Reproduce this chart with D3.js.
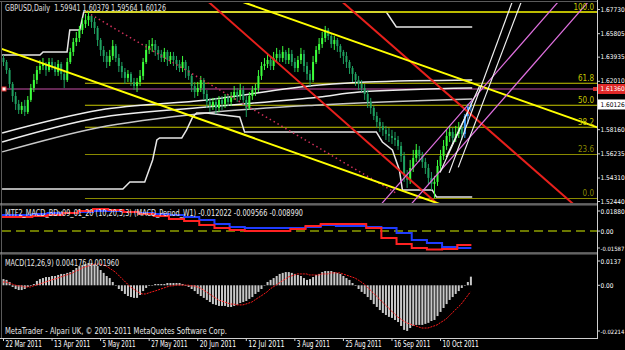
<!DOCTYPE html>
<html><head><meta charset="utf-8">
<script src="https://cdn.jsdelivr.net/npm/d3@7"></script>
<style>body{margin:0;background:#000}svg{display:block}</style>
</head><body>
<svg id="c" width="625" height="350"></svg>
<script>
// ---------------- DATA ----------------
const dateLabels = ["22 Mar 2011","13 Apr 2011","5 May 2011","27 May 2011","20 Jun 2011","12 Jul 2011","3 Aug 2011","25 Aug 2011","16 Sep 2011","10 Oct 2011"];
const dateTickBars = [0,16,32,48,64,80,96,112,128,144];

const open = [1.6383,1.6351,1.6287,1.6176,1.6080,1.6017,1.5969,1.6001,1.5953,1.6049,
1.6144,1.6208,1.6287,1.6319,1.6335,1.6287,1.6351,1.6319,1.6271,1.6335,
1.6256,1.6208,1.6351,1.6431,1.6510,1.6542,1.6606,1.6654,1.6685,1.6717,
1.6670,1.6622,1.6526,1.6447,1.6399,1.6351,1.6399,1.6478,1.6383,1.6319,
1.6271,1.6224,1.6256,1.6192,1.6160,1.6192,1.6240,1.6351,1.6447,1.6478,
1.6494,1.6447,1.6415,1.6383,1.6431,1.6367,1.6399,1.6367,1.6335,1.6303,
1.6351,1.6287,1.6240,1.6160,1.6112,1.6144,1.6208,1.6096,1.6033,1.6001,
1.6033,1.5985,1.6049,1.6017,1.6065,1.6033,1.6080,1.6112,1.6080,1.6128,
1.6049,1.5985,1.6080,1.6128,1.6144,1.6240,1.6319,1.6335,1.6367,1.6319,
1.6383,1.6415,1.6383,1.6431,1.6367,1.6415,1.6351,1.6303,1.6367,1.6415,
1.6319,1.6256,1.6208,1.6351,1.6447,1.6494,1.6542,1.6606,1.6558,1.6494,
1.6526,1.6478,1.6431,1.6399,1.6351,1.6303,1.6256,1.6208,1.6176,1.6144,
1.6096,1.6033,1.5985,1.5921,1.5873,1.5842,1.5810,1.5778,1.5762,1.5746,
1.5730,1.5682,1.5603,1.5444,1.5412,1.5507,1.5587,1.5651,1.5603,1.5555,
1.5507,1.5428,1.5380,1.5396,1.5523,1.5603,1.5682,1.5762,1.5794,1.5746,
1.5778,1.5826,1.5778,1.5921,1.59941];
const high = [1.6407,1.6367,1.6303,1.6192,1.6112,1.6049,1.6033,1.6049,1.6080,1.6176,
1.6256,1.6319,1.6367,1.6383,1.6351,1.6383,1.6383,1.6351,1.6367,1.6351,
1.6287,1.6383,1.6463,1.6542,1.6590,1.6638,1.6701,1.6733,1.6749,1.6733,
1.6701,1.6638,1.6542,1.6478,1.6431,1.6447,1.6526,1.6494,1.6415,1.6351,
1.6303,1.6287,1.6271,1.6224,1.6224,1.6287,1.6383,1.6494,1.6526,1.6542,
1.6526,1.6478,1.6447,1.6463,1.6447,1.6431,1.6431,1.6399,1.6367,1.6399,
1.6367,1.6319,1.6256,1.6192,1.6192,1.6240,1.6224,1.6128,1.6065,1.6065,
1.6065,1.6080,1.6080,1.6096,1.6096,1.6112,1.6160,1.6144,1.6176,1.6160,
1.6080,1.6112,1.6160,1.6176,1.6287,1.6351,1.6383,1.6415,1.6399,1.6431,
1.6463,1.6447,1.6478,1.6447,1.6463,1.6447,1.6383,1.6399,1.6463,1.6447,
1.6351,1.6287,1.6399,1.6478,1.6542,1.6590,1.6638,1.6622,1.6574,1.6558,
1.6542,1.6494,1.6447,1.6431,1.6367,1.6319,1.6271,1.6240,1.6208,1.6176,
1.6128,1.6065,1.6001,1.5953,1.5905,1.5873,1.5842,1.5826,1.5810,1.5794,
1.5762,1.5714,1.5635,1.5491,1.5571,1.5651,1.5698,1.5682,1.5635,1.5587,
1.5539,1.5475,1.5444,1.5571,1.5651,1.5730,1.5810,1.5842,1.5826,1.5842,
1.5873,1.5858,1.5937,1.6017,1.60379];
const low = [1.6319,1.6256,1.6144,1.6033,1.5969,1.5937,1.5937,1.5921,1.5937,1.6033,
1.6112,1.6176,1.6256,1.6287,1.6240,1.6271,1.6287,1.6240,1.6240,1.6208,
1.6144,1.6192,1.6335,1.6399,1.6478,1.6510,1.6574,1.6622,1.6638,1.6622,
1.6574,1.6478,1.6399,1.6351,1.6303,1.6319,1.6367,1.6351,1.6271,1.6224,
1.6176,1.6192,1.6160,1.6128,1.6112,1.6160,1.6208,1.6335,1.6415,1.6431,
1.6399,1.6367,1.6351,1.6351,1.6319,1.6335,1.6319,1.6287,1.6271,1.6271,
1.6224,1.6208,1.6112,1.6065,1.6080,1.6112,1.6049,1.5985,1.5953,1.5969,
1.5937,1.5953,1.5969,1.5985,1.6001,1.6001,1.6049,1.6033,1.6049,1.6001,
1.5913,1.5969,1.6049,1.6080,1.6112,1.6208,1.6287,1.6303,1.6287,1.6287,
1.6351,1.6351,1.6351,1.6335,1.6335,1.6319,1.6271,1.6271,1.6335,1.6271,
1.6208,1.6160,1.6192,1.6335,1.6415,1.6463,1.6510,1.6526,1.6463,1.6447,
1.6431,1.6383,1.6335,1.6303,1.6256,1.6192,1.6160,1.6128,1.6112,1.6049,
1.5985,1.5937,1.5889,1.5826,1.5794,1.5762,1.5730,1.5714,1.5698,1.5682,
1.5651,1.5555,1.5396,1.5348,1.5380,1.5475,1.5555,1.5555,1.5507,1.5459,
1.5380,1.5332,1.5268,1.5364,1.5491,1.5571,1.5651,1.5714,1.5698,1.5714,
1.5746,1.5730,1.5746,1.5858,1.59564];
const close = [1.6351,1.6287,1.6176,1.6080,1.6017,1.5969,1.6001,1.5953,1.6049,1.6144,
1.6208,1.6287,1.6319,1.6335,1.6287,1.6351,1.6319,1.6271,1.6335,1.6256,
1.6208,1.6351,1.6431,1.6510,1.6542,1.6606,1.6654,1.6685,1.6717,1.6670,
1.6622,1.6526,1.6447,1.6399,1.6351,1.6399,1.6478,1.6383,1.6319,1.6271,
1.6224,1.6256,1.6192,1.6160,1.6192,1.6240,1.6351,1.6447,1.6478,1.6494,
1.6447,1.6415,1.6383,1.6431,1.6367,1.6399,1.6367,1.6335,1.6303,1.6351,
1.6287,1.6240,1.6160,1.6112,1.6144,1.6208,1.6096,1.6033,1.6001,1.6033,
1.5985,1.6049,1.6017,1.6065,1.6033,1.6080,1.6112,1.6080,1.6128,1.6049,
1.5985,1.6080,1.6128,1.6144,1.6240,1.6319,1.6335,1.6367,1.6319,1.6383,
1.6415,1.6383,1.6431,1.6367,1.6415,1.6351,1.6303,1.6367,1.6415,1.6319,
1.6256,1.6208,1.6351,1.6447,1.6494,1.6542,1.6606,1.6558,1.6494,1.6526,
1.6478,1.6431,1.6399,1.6351,1.6303,1.6256,1.6208,1.6176,1.6144,1.6096,
1.6033,1.5985,1.5921,1.5873,1.5842,1.5810,1.5778,1.5762,1.5746,1.5730,
1.5682,1.5603,1.5444,1.5412,1.5507,1.5587,1.5651,1.5603,1.5555,1.5507,
1.5428,1.5380,1.5396,1.5523,1.5603,1.5682,1.5762,1.5794,1.5746,1.5778,
1.5826,1.5778,1.5921,1.59941,1.60126];
const highlightBars = [152,153,154];

const priceTicks = [1.67730,1.65805,1.63935,1.62010,1.58160,1.56235,1.54310,1.52440];
const lastPrice = 1.60126;
const hLinePrice = 1.61360;

const fibHigh = 1.6749, fibLow = 1.5264, fibStartBar = 27;
const fibLevels = [100.0, 61.8, 50.0, 38.2, 23.6, 0.0];

// trend lines: [bar1, price1, bar2, price2]
const yellowLines = [[0,1.6452,100,1.5596],[88,1.6752,150,1.6222]];
const redLines = [[70,1.6781,140,1.5288],[115,1.6762,185,1.5281]];
const redDotted = [29,1.6728,130,1.5300];
const pinkLines = [[125,1.5229,180,1.6749],[135,1.5233,190,1.6752]];
const whiteLong = [[147,1.5468,168,1.6844],[150,1.5512,171,1.6845]];
const whiteShort = [[144,1.5471,157,1.6157],[146,1.5592,153,1.5948]];

// channel (highest high / lowest low) : [bar, price]
const channelUpper = [[-0.3,1.6407],[12.2,1.6407],[13.2,1.6431],[21.1,1.6431],[22.0,1.6606],[25.3,1.6606],[26.6,1.6749],[126.3,1.6749],[129.6,1.6630],[154.6,1.6630]];
const channelLower = [[-0.3,1.5340],[39.5,1.5340],[41.8,1.5396],[46.7,1.5396],[49.3,1.5571],[50.7,1.5730],[51.6,1.5746],[58.9,1.5746],[60.5,1.5810],[62.5,1.5913],[63.8,1.5945],[67.1,1.5945],[78.0,1.5913],[79.6,1.5794],[123.0,1.5794],[125.0,1.5714],[128.3,1.5651],[130.6,1.5491],[131.6,1.5332],[141.4,1.5332],[142.8,1.5276],[154.6,1.5276]];
// slow averages
const avg1 = [[-0.3,1.5786],[31.9,1.5969],[67.1,1.6049],[104.3,1.6168],[119.7,1.6192],[154.6,1.6208]];
const avg2 = [[-0.3,1.5714],[30.9,1.5905],[67.1,1.5993],[104.3,1.6073],[117.4,1.6112],[154.6,1.6144]];
const avg3 = [[-0.3,1.5635],[30.9,1.5826],[67.1,1.5945],[104.3,1.6009],[154.6,1.6057]];

// MTF MACD (weekly values, 5 bars per week)
const mtfRed = [0.0131,0.0131,0.0141,0.0150,0.0169,0.0187,0.0206,0.0197,0.0178,0.0159,0.0141,0.0112,0.0094,0.0056,0.0028,0.0009,0.0000,0.0000,0.0000,0.0019,0.0047,0.0066,0.0066,0.0066,0.0028,-0.0066,-0.0122,-0.0159,-0.0173,-0.0169,-0.0131];
const mtfBlue = [0.0150,0.0150,0.0159,0.0169,0.0169,0.0178,0.0187,0.0187,0.0178,0.0169,0.0159,0.0150,0.0131,0.0103,0.0066,0.0037,0.0028,0.0028,0.0028,0.0028,0.0037,0.0056,0.0047,0.0047,0.0037,0.0028,-0.0019,-0.0084,-0.0112,-0.0150,-0.0159];
const mtfTicks = [0.01880,0,-0.01587];
const mtfTickLabels = ["0.01880","0.00","-0.01587"];

// MACD
const macdMain = [0.0030,0.0026,0.0016,-0.0008,-0.0018,-0.0023,-0.0023,-0.0018,-0.0008,-0.0003,
0.0006,0.0021,0.0030,0.0035,0.0040,0.0040,0.0045,0.0045,0.0050,0.0055,
0.0055,0.0060,0.0064,0.0074,0.0084,0.0093,0.0098,0.0103,0.0108,0.0108,
0.0103,0.0093,0.0074,0.0060,0.0045,0.0035,0.0016,0.0001,-0.0018,-0.0028,
-0.0042,-0.0052,-0.0057,-0.0061,-0.0061,-0.0047,-0.0028,-0.0013,-0.0003,0.0001,
0.0006,0.0006,0.0006,0.0006,0.0011,0.0011,0.0011,0.0011,0.0011,0.0006,
-0.0003,-0.0008,-0.0018,-0.0028,-0.0042,-0.0052,-0.0061,-0.0071,-0.0081,-0.0091,
-0.0095,-0.0100,-0.0100,-0.0100,-0.0105,-0.0105,-0.0100,-0.0095,-0.0086,-0.0081,
-0.0076,-0.0066,-0.0057,-0.0042,-0.0032,-0.0018,0.0001,0.0016,0.0026,0.0035,
0.0045,0.0055,0.0060,0.0064,0.0064,0.0060,0.0055,0.0050,0.0045,0.0035,
0.0026,0.0030,0.0040,0.0050,0.0055,0.0064,0.0069,0.0069,0.0069,0.0064,
0.0060,0.0055,0.0045,0.0035,0.0026,0.0011,-0.0003,-0.0018,-0.0032,-0.0042,
-0.0057,-0.0071,-0.0091,-0.0105,-0.0120,-0.0134,-0.0144,-0.0153,-0.0158,-0.0168,
-0.0178,-0.0197,-0.0216,-0.0221,-0.0207,-0.0197,-0.0192,-0.0192,-0.0192,-0.0187,
-0.0182,-0.0173,-0.0168,-0.0149,-0.0129,-0.0110,-0.0091,-0.0071,-0.0057,-0.0042,
-0.0028,-0.0013,0.0001,0.0016,0.004176];
const macdSignal = [0.0016,0.0016,0.0011,0.0006,0.0001,-0.0003,-0.0003,-0.0008,-0.0008,-0.0008,
-0.0003,0.0001,0.0006,0.0011,0.0016,0.0021,0.0026,0.0030,0.0035,0.0040,
0.0045,0.0050,0.0055,0.0060,0.0069,0.0074,0.0084,0.0089,0.0093,0.0098,
0.0103,0.0103,0.0103,0.0098,0.0093,0.0084,0.0074,0.0064,0.0050,0.0035,
0.0021,0.0006,-0.0008,-0.0018,-0.0028,-0.0037,-0.0042,-0.0042,-0.0037,-0.0032,
-0.0028,-0.0023,-0.0018,-0.0013,-0.0008,-0.0003,-0.0003,0.0001,0.0001,0.0001,
0.0001,0.0001,-0.0003,-0.0003,-0.0008,-0.0013,-0.0023,-0.0032,-0.0042,-0.0052,
-0.0061,-0.0071,-0.0076,-0.0081,-0.0086,-0.0091,-0.0091,-0.0095,-0.0095,-0.0095,
-0.0091,-0.0086,-0.0081,-0.0071,-0.0061,-0.0052,-0.0042,-0.0032,-0.0018,-0.0008,
0.0001,0.0011,0.0021,0.0030,0.0040,0.0045,0.0050,0.0055,0.0055,0.0055,
0.0055,0.0050,0.0050,0.0050,0.0050,0.0055,0.0055,0.0055,0.0060,0.0060,
0.0060,0.0060,0.0055,0.0050,0.0045,0.0040,0.0035,0.0026,0.0016,0.0006,
-0.0008,-0.0023,-0.0037,-0.0052,-0.0066,-0.0081,-0.0095,-0.0110,-0.0124,-0.0139,
-0.0153,-0.0163,-0.0173,-0.0182,-0.0187,-0.0192,-0.0197,-0.0202,-0.0207,-0.0207,
-0.0207,-0.0202,-0.0197,-0.0192,-0.0182,-0.0173,-0.0163,-0.0149,-0.0134,-0.0120,
-0.0105,-0.0091,-0.0071,-0.0052,-0.0032];
const macdTicks = [0.0137,0,-0.02214];
const macdTickLabels = ["0.0137","0.00","-0.02214"];

// ---------------- DRAW ----------------
const FONT = "'Liberation Sans Narrow','DejaVu Sans Condensed','Liberation Sans',Arial,sans-serif";
const svg = d3.select('#c');
const N = close.length;
const plotL = 2, plotR = 597;
const P = {main:[3,203], mtf:[206,252], macd:[256,337]};

const x = d3.scaleLinear().domain([0, N-1]).range([3, 3 + 3.035*(N-1)]);
const y = d3.scaleLinear().domain([1.5244, 1.6773]).range([201, 9]);
const yM = d3.scaleLinear().domain([-0.01587, 0.0188]).range([248, 211]);
const yD = d3.scaleLinear().domain([-0.02214, 0.0137]).range([331, 257]);

// right-margin label size so that each label fits inside the picture
const sideSize = s => s.length >= 8 ? 5.9 : 6.5;

svg.append('rect').attr('width',625).attr('height',350).attr('fill','#000');
const defs = svg.append('defs');
function clip(id, y0, y1){
  defs.append('clipPath').attr('id',id).append('rect')
    .attr('x',plotL).attr('y',y0).attr('width',plotR-plotL).attr('height',y1-y0);
  return svg.append('g').attr('clip-path',`url(#${id})`);
}
const gMain = clip('cm', P.main[0], P.main[1]);
const gMtf = clip('ct', P.mtf[0], P.mtf[1]);
const gMacd = clip('cd', P.macd[0], P.macd[1]);

// frame
const frame = svg.append('g');
frame.append('line').attr('x1',0).attr('x2',plotR).attr('y1',1.5).attr('y2',1.5).attr('stroke','#5a5a5a');
frame.append('line').attr('x1',1.5).attr('x2',1.5).attr('y1',1).attr('y2',338).attr('stroke','#5a5a5a');
[[204,205],[253,254]].forEach(([a,b])=>{
  frame.append('line').attr('x1',0).attr('x2',plotR).attr('y1',a).attr('y2',a).attr('stroke','#b0b0b0');
  frame.append('line').attr('x1',0).attr('x2',plotR).attr('y1',b).attr('y2',b).attr('stroke','#707070');
});
frame.append('line').attr('x1',0).attr('x2',plotR+1).attr('y1',338.5).attr('y2',338.5).attr('stroke','#d0d0d0');
frame.append('line').attr('x1',plotR+0.5).attr('x2',plotR+0.5).attr('y1',0).attr('y2',339).attr('stroke','#d0d0d0');

// fibonacci levels
const fibColor = l => (l===23.6||l===0) ? '#8a8a00' : '#c8c800';
const fibPrice = l => fibLow + (fibHigh-fibLow)*l/100;
gMain.selectAll('.fib').data(fibLevels).join('line')
  .attr('x1',x(fibStartBar)).attr('x2',plotR)
  .attr('y1',d=>y(fibPrice(d))).attr('y2',d=>y(fibPrice(d)))
  .attr('stroke',fibColor).attr('stroke-width',1.2);

// horizontal magenta line
gMain.append('line').attr('x1',plotL).attr('x2',plotR).attr('y1',y(hLinePrice)).attr('y2',y(hLinePrice))
  .attr('stroke','#c850a8').attr('stroke-width',1.2);

// slow averages and channel
const lineGen = d3.line().x(d=>x(d[0])).y(d=>y(d[1]));
const smooth = d3.line().x(d=>x(d[0])).y(d=>y(d[1])).curve(d3.curveMonotoneX);
[avg1,avg2,avg3].forEach((a,k)=>{
  gMain.append('path').attr('d',smooth(a)).attr('fill','none')
    .attr('stroke',k===2?'#c8c8c8':'#eeeeee').attr('stroke-width',1.5);
});
[channelUpper, channelLower].forEach(a=>{
  gMain.append('path').attr('d',lineGen(a)).attr('fill','none').attr('stroke','#e6e6e6').attr('stroke-width',1.5);
});
gMain.append('line').attr('x1',x(fibStartBar)).attr('x2',plotR).attr('y1',y(fibHigh)).attr('y2',y(fibHigh))
  .attr('stroke','#d8d800').attr('stroke-width',1.4);

// candles
const candles = gMain.selectAll('.cd').data(d3.range(N)).join('g');
const colorOf = i => highlightBars.includes(i) ? '#3a9cff' : (close[i] >= open[i] ? '#3cff3c' : '#1fa060');
candles.append('line')
  .attr('x1',i=>x(i)+0.5).attr('x2',i=>x(i)+0.5)
  .attr('y1',i=>y(high[i])).attr('y2',i=>y(low[i]))
  .attr('stroke',colorOf).attr('stroke-width',1);
candles.append('rect')
  .attr('x',i=>x(i)-0.5).attr('width',2)
  .attr('y',i=>y(Math.max(open[i],close[i])))
  .attr('height',i=>Math.max(1, Math.abs(y(open[i])-y(close[i]))))
  .attr('fill',colorOf);

// trend lines
function pts(a, extend){
  const x1=x(a[0]), y1=y(a[1]), x2=x(a[2]), y2=y(a[3]);
  if(!extend) return [[x1,y1],[x2,y2]];
  const m=(y2-y1)/(x2-x1);
  return [[-100, y1+m*(-100-x1)],[800, y1+m*(800-x1)]];
}
const pl = d3.line();
gMain.append('path').attr('d',pl(pts(redDotted,false))).attr('fill','none')
  .attr('stroke','#d0305a').attr('stroke-width',1.5).attr('stroke-dasharray','1.5,3');
redLines.forEach(a=>gMain.append('path').attr('d',pl(pts(a,true))).attr('fill','none').attr('stroke','#e8201c').attr('stroke-width',2));
yellowLines.forEach(a=>gMain.append('path').attr('d',pl(pts(a,true))).attr('fill','none').attr('stroke','#ffff00').attr('stroke-width',2));
pinkLines.forEach(a=>gMain.append('path').attr('d',pl(pts(a,true))).attr('fill','none').attr('stroke','#e070e0').attr('stroke-width',1.2));
whiteLong.forEach(a=>gMain.append('path').attr('d',pl(pts(a,false))).attr('fill','none').attr('stroke','#f0f0f0').attr('stroke-width',1.2));
whiteShort.forEach(a=>gMain.append('path').attr('d',pl(pts(a,false))).attr('fill','none').attr('stroke','#f0f0f0').attr('stroke-width',1.2));

// fib labels
svg.selectAll('.fl').data(fibLevels).join('text')
  .attr('x',594).attr('y',d=>y(fibPrice(d))-2.5).attr('text-anchor','end')
  .attr('font-family',FONT).attr('font-size',8).attr('fill',fibColor)
  .text(d=>d.toFixed(1));

// marker for horizontal line
svg.append('rect').attr('x',2).attr('y',y(hLinePrice)-2).attr('width',4).attr('height',4).attr('fill','#fff').attr('stroke','#e03030');

// price axis
const axP = svg.append('g').attr('transform',`translate(${plotR},0)`)
  .call(d3.axisRight(y).tickValues(priceTicks).tickSize(3).tickFormat(d3.format('.5f')));
axP.select('.domain').remove();
axP.selectAll('line').attr('stroke','#d0d0d0');
axP.selectAll('text').attr('fill','#ffffff').attr('font-family',FONT)
  .attr('font-size',function(){ return sideSize(this.textContent); }).attr('x',3.5);

// red price box & current price box
function priceBox(v, bg, fg){
  const yy = y(v), s = d3.format('.5f')(v);
  svg.append('rect').attr('x',598).attr('y',yy-5).attr('width',27).attr('height',10).attr('fill',bg);
  svg.append('text').attr('x',600.5).attr('y',yy+2.5).attr('font-family',FONT).attr('font-size',sideSize(s)).attr('fill',fg).text(s);
}
svg.append('rect').attr('x',593).attr('y',y(hLinePrice)-2).attr('width',4).attr('height',4).attr('fill','#e03030');
priceBox(hLinePrice,'#e02828','#ffffff');
priceBox(lastPrice,'#ffffff','#000000');

// header text
svg.append('text').attr('x',5).attr('y',11).attr('font-family',FONT).attr('font-size',9).attr('fill','#e0e0e0')
  .attr('xml:space','preserve').text('GBPUSD,Daily  1.59941 1.60379 1.59564 1.60126')
  .attr('textLength',161).attr('lengthAdjust','spacingAndGlyphs');

// MTF panel
gMtf.append('line').attr('x1',plotL).attr('x2',plotR).attr('y1',yM(0)).attr('y2',yM(0))
  .attr('stroke','#8fa000').attr('stroke-width',1.5).attr('stroke-dasharray','9,5');
const wl = d3.line().x(d=>d[0]).y(d=>d[1]).curve(d3.curveStepAfter);
function mtfPath(arr){
  const p = arr.map((v,w)=>[x(w*5)-1, yM(v)]);
  p.push([x(N-1)+1, yM(arr[arr.length-1])]);
  return wl(p);
}
gMtf.append('path').attr('d',mtfPath(mtfBlue)).attr('fill','none').attr('stroke','#1f3cff').attr('stroke-width',2);
gMtf.append('path').attr('d',mtfPath(mtfRed)).attr('fill','none').attr('stroke','#ff2222').attr('stroke-width',2);
svg.append('text').attr('x',5).attr('y',216).attr('font-family',FONT).attr('font-size',8.5).attr('fill','#e8e8e8')
  .text('MTF2_MACD_BDv09_01_20 (10,20,5,3) (MACD_Period_W1) -0.012022 -0.009566 -0.008990')
  .attr('textLength',298).attr('lengthAdjust','spacingAndGlyphs');
function sideLabels(scale, ticks, labels, top, bot){
  ticks.forEach((t,k)=>{
    const yy = Math.max(top+5, Math.min(bot-5, scale(t)));
    svg.append('line').attr('x1',plotR).attr('x2',plotR+3).attr('y1',yy).attr('y2',yy).attr('stroke','#d0d0d0');
    svg.append('text').attr('x',600.5).attr('y',yy+2.5).attr('font-family',FONT)
      .attr('font-size',sideSize(labels[k])).attr('fill','#fff').text(labels[k]);
  });
}
sideLabels(yM, mtfTicks, mtfTickLabels, P.mtf[0], P.mtf[1]+1);

// MACD panel
gMacd.selectAll('.hb').data(d3.range(N)).join('rect')
  .attr('x',i=>x(i)-0.5).attr('width',2)
  .attr('y',i=>Math.min(yD(0), yD(macdMain[i])))
  .attr('height',i=>Math.max(0.5, Math.abs(yD(macdMain[i])-yD(0))))
  .attr('fill','#c8c8c8');
gMacd.append('path').attr('d',d3.line().x((d,i)=>x(i)).y(d=>yD(d))(macdSignal)).attr('fill','none')
  .attr('stroke','#ff1a1a').attr('stroke-width',1).attr('stroke-dasharray','2,1');
svg.append('text').attr('x',5).attr('y',266).attr('font-family',FONT).attr('font-size',8.5).attr('fill','#e8e8e8')
  .text('MACD(12,26,9) 0.004176 0.001960').attr('textLength',114).attr('lengthAdjust','spacingAndGlyphs');
sideLabels(yD, macdTicks, macdTickLabels, P.macd[0], P.macd[1]);
svg.append('text').attr('x',5).attr('y',334).attr('font-family',FONT).attr('font-size',8.5).attr('fill','#e8e8e8')
  .text('MetaTrader - Alpari UK, \u00a9 2001-2011 MetaQuotes Software Corp.').attr('textLength',222).attr('lengthAdjust','spacingAndGlyphs');

// time axis
const axT = svg.append('g').attr('transform','translate(0,338)')
  .call(d3.axisBottom(x).tickValues(dateTickBars).tickSize(3).tickFormat((d,k)=>dateLabels[k]));
axT.select('.domain').remove();
axT.selectAll('line').attr('stroke','#d0d0d0');
axT.selectAll('text').attr('fill','#ffffff').attr('font-family',FONT).attr('font-size',8)
  .attr('text-anchor','start').attr('dx',2).attr('y',3).attr('dy','0.71em')
  .attr('textLength',function(){ return this.textContent.length*3.3; }).attr('lengthAdjust','spacingAndGlyphs');
</script>
</body></html>
